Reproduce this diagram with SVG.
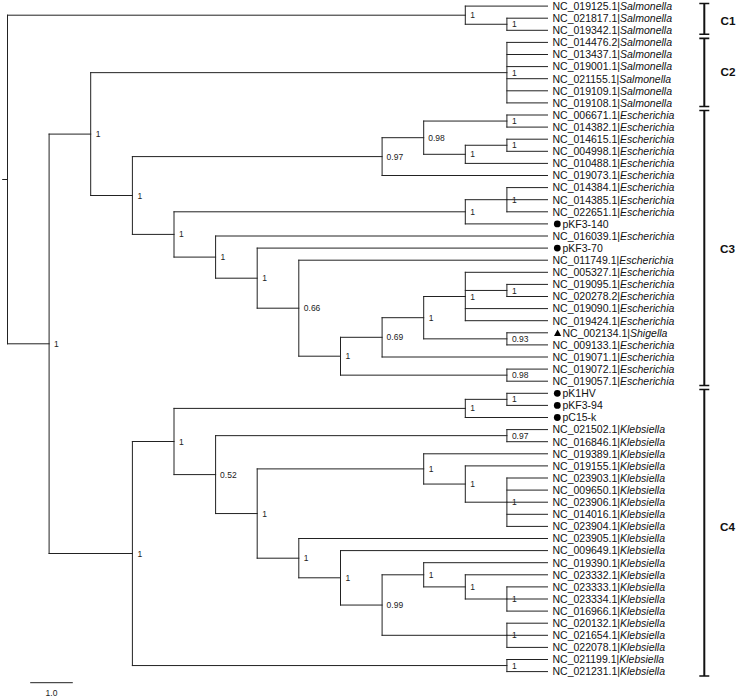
<svg xmlns="http://www.w3.org/2000/svg" width="737" height="699" viewBox="0 0 737 699">
<style>
.e{fill:none;stroke:#222;stroke-width:1;stroke-linecap:square}
.lf{font-family:"Liberation Sans",Arial,sans-serif;font-size:10.5px;fill:#111}
.lf tspan{font-style:italic}
.sp{font-family:"Liberation Sans",Arial,sans-serif;font-size:8.5px;fill:#222}
.br{fill:none;stroke:#111;stroke-width:2}
.cap{fill:none;stroke:#111;stroke-width:1.6}
.cl{font-family:"Liberation Sans",Arial,sans-serif;font-size:11.7px;font-weight:bold;fill:#111}
.mk{fill:#000}
</style>
<rect width="737" height="699" fill="#fff"/>
<g id="connectors" class="e">
<path d="M2.7,179.5H7.5M7.5,15.2V343.8M7.5,15.2H465.3M7.5,343.8H49.1"/>
<path d="M465.3,6.1V24.25M465.3,6.1H547.5M465.3,24.25H506.9"/>
<path d="M506.9,18.2V30.3M506.9,18.2H547.5M506.9,30.3H547.5"/>
<path d="M49.1,134.1V553.5M49.1,134.1H90.7M49.1,553.5H132.4"/>
<path d="M90.7,72.65V195.5M90.7,72.65H506.9M90.7,195.5H132.4"/>
<path d="M506.9,42.4V102.9M506.9,42.4H547.5M506.9,54.5H547.5M506.9,66.6H547.5M506.9,78.7H547.5M506.9,90.8H547.5M506.9,102.9H547.5"/>
<path d="M132.4,156.6V234.4M132.4,156.6H382.1M132.4,234.4H174"/>
<path d="M382.1,137.7V175.5M382.1,137.7H423.7M382.1,175.5H547.5"/>
<path d="M423.7,121.05V154.3M423.7,121.05H506.9M423.7,154.3H465.3"/>
<path d="M506.9,115V127.1M506.9,115H547.5M506.9,127.1H547.5"/>
<path d="M465.3,145.25V163.4M465.3,145.25H506.9M465.3,163.4H547.5"/>
<path d="M506.9,139.2V151.3M506.9,139.2H547.5M506.9,151.3H547.5"/>
<path d="M174,211.8V257.1M174,211.8H465.3M174,257.1H215.6"/>
<path d="M465.3,199.7V223.9M465.3,199.7H506.9M465.3,223.9H547.5"/>
<path d="M506.9,187.6V211.8M506.9,187.6H547.5M506.9,199.7H547.5M506.9,211.8H547.5"/>
<path d="M215.6,236V278.2M215.6,236H547.5M215.6,278.2H257.2"/>
<path d="M257.2,248.1V308.2M257.2,248.1H547.5M257.2,308.2H298.8"/>
<path d="M298.8,260.2V356.2M298.8,260.2H547.5M298.8,356.2H340.5"/>
<path d="M340.5,337.3V375.15M340.5,337.3H382.1M340.5,375.15H506.9"/>
<path d="M382.1,317.7V357M382.1,317.7H423.7M382.1,357H547.5"/>
<path d="M423.7,296.5V338.85M423.7,296.5H465.3M423.7,338.85H506.9"/>
<path d="M465.3,272.3V320.7M465.3,272.3H547.5M465.3,290.45H506.9M465.3,308.6H547.5M465.3,320.7H547.5"/>
<path d="M506.9,284.4V296.5M506.9,284.4H547.5M506.9,296.5H547.5"/>
<path d="M506.9,332.8V344.9M506.9,332.8H547.5M506.9,344.9H547.5"/>
<path d="M506.9,369.1V381.2M506.9,369.1H547.5M506.9,381.2H547.5"/>
<path d="M132.4,441.5V665.55M132.4,441.5H174M132.4,665.55H506.9"/>
<path d="M506.9,659.5V671.6M506.9,659.5H547.5M506.9,671.6H547.5"/>
<path d="M174,408.4V474.6M174,408.4H465.3M174,474.6H215.6"/>
<path d="M465.3,399.35V417.5M465.3,399.35H506.9M465.3,417.5H547.5"/>
<path d="M506.9,393.3V405.4M506.9,393.3H547.5M506.9,405.4H547.5"/>
<path d="M215.6,435.65V513.55M215.6,435.65H506.9M215.6,513.55H257.2"/>
<path d="M506.9,429.6V441.7M506.9,429.6H547.5M506.9,441.7H547.5"/>
<path d="M257.2,468.9V558.2M257.2,468.9H423.7M257.2,558.2H298.8"/>
<path d="M423.7,453.8V484.05M423.7,453.8H547.5M423.7,484.05H465.3"/>
<path d="M465.3,465.9V502.2M465.3,465.9H547.5M465.3,502.2H506.9"/>
<path d="M506.9,478V526.4M506.9,478H547.5M506.9,490.1H547.5M506.9,502.2H547.5M506.9,514.3H547.5M506.9,526.4H547.5"/>
<path d="M298.8,538.5V577.8M298.8,538.5H547.5M298.8,577.8H340.5"/>
<path d="M340.5,550.6V605.05M340.5,550.6H547.5M340.5,605.05H382.1"/>
<path d="M382.1,574.8V635.3M382.1,574.8H423.7M382.1,635.3H506.9"/>
<path d="M423.7,562.7V586.9M423.7,562.7H547.5M423.7,586.9H465.3"/>
<path d="M465.3,574.8V599M465.3,574.8H547.5M465.3,599H506.9"/>
<path d="M506.9,586.9V611.1M506.9,586.9H547.5M506.9,599H547.5M506.9,611.1H547.5"/>
<path d="M506.9,623.2V647.4M506.9,623.2H547.5M506.9,635.3H547.5M506.9,647.4H547.5"/>
</g>
<g id="support-values" class="sp">
<text x="470.3" y="18.2">1</text>
<text x="511.9" y="27.3">1</text>
<text x="54.1" y="346.8">1</text>
<text x="95.7" y="137.1">1</text>
<text x="511.9" y="75.7">1</text>
<text x="137.4" y="198.5">1</text>
<text x="386.6" y="159.6">0.97</text>
<text x="428.2" y="140.7">0.98</text>
<text x="511.9" y="124.1">1</text>
<text x="470.3" y="157.3">1</text>
<text x="511.9" y="148.3">1</text>
<text x="179" y="237.4">1</text>
<text x="470.3" y="214.8">1</text>
<text x="511.9" y="202.7">1</text>
<text x="220.6" y="260.1">1</text>
<text x="262.2" y="281.2">1</text>
<text x="303.8" y="311.2">0.66</text>
<text x="345.5" y="359.2">1</text>
<text x="386.6" y="340.3">0.69</text>
<text x="428.7" y="320.7">1</text>
<text x="470.3" y="299.5">1</text>
<text x="511.9" y="293.5">1</text>
<text x="511.9" y="341.9">0.93</text>
<text x="511.9" y="378.2">0.98</text>
<text x="137.4" y="556.5">1</text>
<text x="511.9" y="668.6">1</text>
<text x="179" y="444.5">1</text>
<text x="470.3" y="411.4">1</text>
<text x="511.9" y="402.4">1</text>
<text x="220.1" y="477.6">0.52</text>
<text x="511.9" y="438.7">0.97</text>
<text x="262.2" y="516.6">1</text>
<text x="428.7" y="471.9">1</text>
<text x="470.3" y="487.1">1</text>
<text x="511.9" y="505.2">1</text>
<text x="303.8" y="561.2">1</text>
<text x="345.5" y="580.8">1</text>
<text x="386.6" y="608.1">0.99</text>
<text x="428.7" y="577.8">1</text>
<text x="470.3" y="589.9">1</text>
<text x="511.9" y="602">1</text>
<text x="511.9" y="638.3">1</text>
</g>
<g id="leaves" class="lf">
<g id="leaf-0"><text x="552.5" y="9.9">NC_019125.1|<tspan>Salmonella</tspan></text></g>
<g id="leaf-1"><text x="552.5" y="22">NC_021817.1|<tspan>Salmonella</tspan></text></g>
<g id="leaf-2"><text x="552.5" y="34.1">NC_019342.1|<tspan>Salmonella</tspan></text></g>
<g id="leaf-3"><text x="552.5" y="46.2">NC_014476.2|<tspan>Salmonella</tspan></text></g>
<g id="leaf-4"><text x="552.5" y="58.3">NC_013437.1|<tspan>Salmonella</tspan></text></g>
<g id="leaf-5"><text x="552.5" y="70.4">NC_019001.1|<tspan>Salmonella</tspan></text></g>
<g id="leaf-6"><text x="552.5" y="82.5">NC_021155.1|<tspan>Salmonella</tspan></text></g>
<g id="leaf-7"><text x="552.5" y="94.6">NC_019109.1|<tspan>Salmonella</tspan></text></g>
<g id="leaf-8"><text x="552.5" y="106.7">NC_019108.1|<tspan>Salmonella</tspan></text></g>
<g id="leaf-9"><text x="552.5" y="118.8">NC_006671.1|<tspan>Escherichia</tspan></text></g>
<g id="leaf-10"><text x="552.5" y="130.9">NC_014382.1|<tspan>Escherichia</tspan></text></g>
<g id="leaf-11"><text x="552.5" y="143">NC_014615.1|<tspan>Escherichia</tspan></text></g>
<g id="leaf-12"><text x="552.5" y="155.1">NC_004998.1|<tspan>Escherichia</tspan></text></g>
<g id="leaf-13"><text x="552.5" y="167.2">NC_010488.1|<tspan>Escherichia</tspan></text></g>
<g id="leaf-14"><text x="552.5" y="179.3">NC_019073.1|<tspan>Escherichia</tspan></text></g>
<g id="leaf-15"><text x="552.5" y="191.4">NC_014384.1|<tspan>Escherichia</tspan></text></g>
<g id="leaf-16"><text x="552.5" y="203.5">NC_014385.1|<tspan>Escherichia</tspan></text></g>
<g id="leaf-17"><text x="552.5" y="215.6">NC_022651.1|<tspan>Escherichia</tspan></text></g>
<g id="leaf-18"><circle class="mk" cx="557.3" cy="223.9" r="3.4"/><text x="562.5" y="227.7">pKF3-140</text></g>
<g id="leaf-19"><text x="552.5" y="239.8">NC_016039.1|<tspan>Escherichia</tspan></text></g>
<g id="leaf-20"><circle class="mk" cx="557.3" cy="248.1" r="3.4"/><text x="562.5" y="251.9">pKF3-70</text></g>
<g id="leaf-21"><text x="552.5" y="264">NC_011749.1|<tspan>Escherichia</tspan></text></g>
<g id="leaf-22"><text x="552.5" y="276.1">NC_005327.1|<tspan>Escherichia</tspan></text></g>
<g id="leaf-23"><text x="552.5" y="288.2">NC_019095.1|<tspan>Escherichia</tspan></text></g>
<g id="leaf-24"><text x="552.5" y="300.3">NC_020278.2|<tspan>Escherichia</tspan></text></g>
<g id="leaf-25"><text x="552.5" y="312.4">NC_019090.1|<tspan>Escherichia</tspan></text></g>
<g id="leaf-26"><text x="552.5" y="324.5">NC_019424.1|<tspan>Escherichia</tspan></text></g>
<g id="leaf-27"><polygon class="mk" points="554,335.9 561.2,335.9 557.6,329.4"/><text x="562.5" y="336.6">NC_002134.1|<tspan>Shigella</tspan></text></g>
<g id="leaf-28"><text x="552.5" y="348.7">NC_009133.1|<tspan>Escherichia</tspan></text></g>
<g id="leaf-29"><text x="552.5" y="360.8">NC_019071.1|<tspan>Escherichia</tspan></text></g>
<g id="leaf-30"><text x="552.5" y="372.9">NC_019072.1|<tspan>Escherichia</tspan></text></g>
<g id="leaf-31"><text x="552.5" y="385">NC_019057.1|<tspan>Escherichia</tspan></text></g>
<g id="leaf-32"><circle class="mk" cx="557.3" cy="393.3" r="3.4"/><text x="562.5" y="397.1">pK1HV</text></g>
<g id="leaf-33"><circle class="mk" cx="557.3" cy="405.4" r="3.4"/><text x="562.5" y="409.2">pKF3-94</text></g>
<g id="leaf-34"><circle class="mk" cx="557.3" cy="417.5" r="3.4"/><text x="562.5" y="421.3">pC15-k</text></g>
<g id="leaf-35"><text x="552.5" y="433.4">NC_021502.1|<tspan>Klebsiella</tspan></text></g>
<g id="leaf-36"><text x="552.5" y="445.5">NC_016846.1|<tspan>Klebsiella</tspan></text></g>
<g id="leaf-37"><text x="552.5" y="457.6">NC_019389.1|<tspan>Klebsiella</tspan></text></g>
<g id="leaf-38"><text x="552.5" y="469.7">NC_019155.1|<tspan>Klebsiella</tspan></text></g>
<g id="leaf-39"><text x="552.5" y="481.8">NC_023903.1|<tspan>Klebsiella</tspan></text></g>
<g id="leaf-40"><text x="552.5" y="493.9">NC_009650.1|<tspan>Klebsiella</tspan></text></g>
<g id="leaf-41"><text x="552.5" y="506">NC_023906.1|<tspan>Klebsiella</tspan></text></g>
<g id="leaf-42"><text x="552.5" y="518.1">NC_014016.1|<tspan>Klebsiella</tspan></text></g>
<g id="leaf-43"><text x="552.5" y="530.2">NC_023904.1|<tspan>Klebsiella</tspan></text></g>
<g id="leaf-44"><text x="552.5" y="542.3">NC_023905.1|<tspan>Klebsiella</tspan></text></g>
<g id="leaf-45"><text x="552.5" y="554.4">NC_009649.1|<tspan>Klebsiella</tspan></text></g>
<g id="leaf-46"><text x="552.5" y="566.5">NC_019390.1|<tspan>Klebsiella</tspan></text></g>
<g id="leaf-47"><text x="552.5" y="578.6">NC_023332.1|<tspan>Klebsiella</tspan></text></g>
<g id="leaf-48"><text x="552.5" y="590.7">NC_023333.1|<tspan>Klebsiella</tspan></text></g>
<g id="leaf-49"><text x="552.5" y="602.8">NC_023334.1|<tspan>Klebsiella</tspan></text></g>
<g id="leaf-50"><text x="552.5" y="614.9">NC_016966.1|<tspan>Klebsiella</tspan></text></g>
<g id="leaf-51"><text x="552.5" y="627">NC_020132.1|<tspan>Klebsiella</tspan></text></g>
<g id="leaf-52"><text x="552.5" y="639.1">NC_021654.1|<tspan>Klebsiella</tspan></text></g>
<g id="leaf-53"><text x="552.5" y="651.2">NC_022078.1|<tspan>Klebsiella</tspan></text></g>
<g id="leaf-54"><text x="552.5" y="663.3">NC_021199.1|<tspan>Klebsiella</tspan></text></g>
<g id="leaf-55"><text x="552.5" y="675.4">NC_021231.1|<tspan>Klebsiella</tspan></text></g>
</g>
<g id="clade-C1">
<path class="br" d="M704.3,3.5V34.3"/><path class="cap" d="M699.3,3.5H709.3M699.3,34.3H709.3"/>
<text class="cl" x="720.5" y="25">C1</text>
</g>
<g id="clade-C2">
<path class="br" d="M704.3,38.4V106.5"/><path class="cap" d="M699.3,38.4H709.3M699.3,106.5H709.3"/>
<text class="cl" x="720.5" y="76">C2</text>
</g>
<g id="clade-C3">
<path class="br" d="M704.3,110.5V385.5"/><path class="cap" d="M699.3,110.5H709.3M699.3,385.5H709.3"/>
<text class="cl" x="720" y="253">C3</text>
</g>
<g id="clade-C4">
<path class="br" d="M704.3,389.5V676"/><path class="cap" d="M699.3,389.5H709.3M699.3,676H709.3"/>
<text class="cl" x="720" y="531">C4</text>
</g>
<g id="scale-bar">
<path class="e" d="M30.7,682.7H72.3"/>
<text class="sp" x="51.5" y="696" text-anchor="middle">1.0</text>
</g>
</svg>
